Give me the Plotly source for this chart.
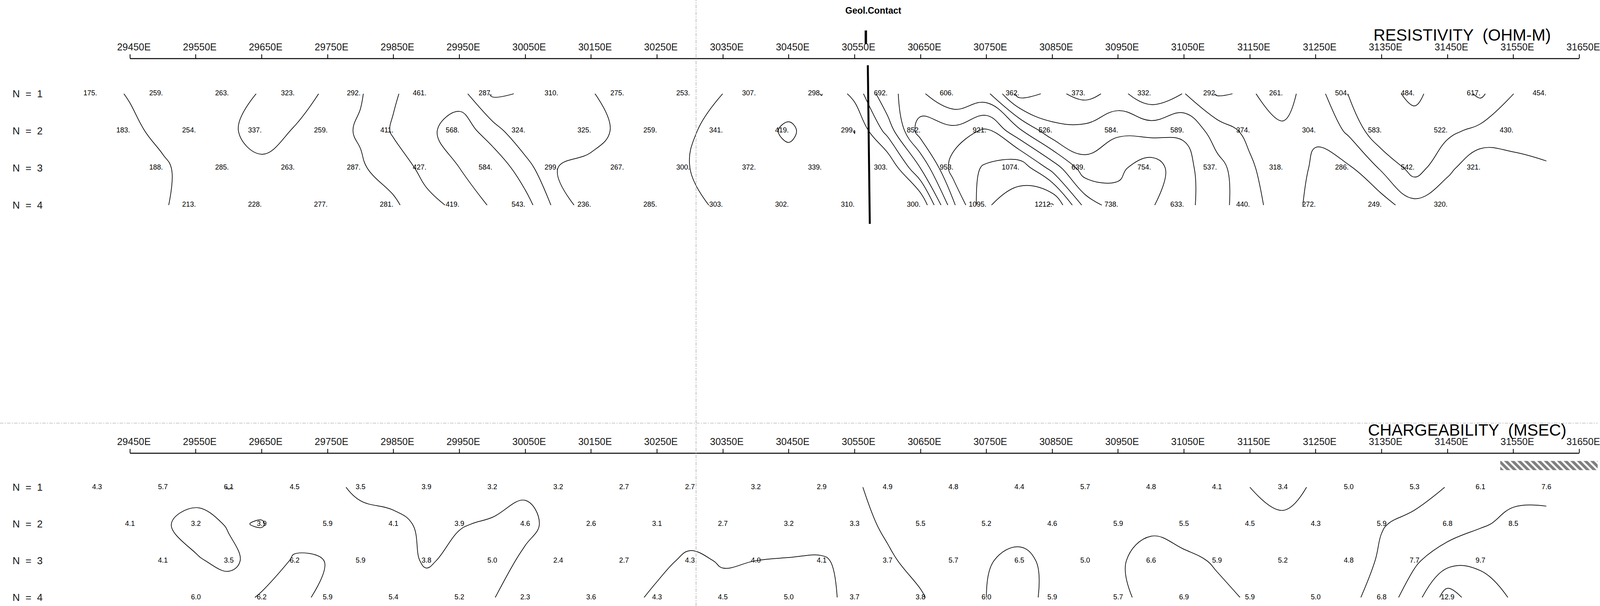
import plotly.graph_objects as go

# ---------------- data ----------------
tick_values = [29450, 29550, 29650, 29750, 29850, 29950, 30050, 30150, 30250, 30350, 30450,
               30550, 30650, 30750, 30850, 30950, 31050, 31150, 31250, 31350, 31450, 31550, 31650]
tick_labels = [f"{v}E" for v in tick_values]

n_levels = [1, 2, 3, 4]
row_start = [29400, 29450, 29500, 29550]   # first station of each N level
station_step = 100

res_n1 = [175, 259, 263, 323, 292, 461, 287, 310, 275, 253, 307, 298, 692, 606, 362, 373, 332, 292, 261, 504, 484, 617, 454]
res_n2 = [183, 254, 337, 259, 411, 568, 324, 325, 259, 341, 419, 299, 852, 921, 526, 584, 589, 374, 304, 583, 522, 430]
res_n3 = [188, 285, 263, 287, 427, 584, 299, 267, 300, 372, 339, 303, 953, 1074, 639, 754, 537, 318, 286, 542, 321]
res_n4 = [213, 228, 277, 281, 419, 543, 236, 285, 303, 302, 310, 300, 1095, 1212, 738, 633, 440, 272, 249, 320]

chg_n1 = [4.3, 5.7, 6.1, 4.5, 3.5, 3.9, 3.2, 3.2, 2.7, 2.7, 3.2, 2.9, 4.9, 4.8, 4.4, 5.7, 4.8, 4.1, 3.4, 5.0, 5.3, 6.1, 7.6]
chg_n2 = [4.1, 3.2, 3.9, 5.9, 4.1, 3.9, 4.6, 2.6, 3.1, 2.7, 3.2, 3.3, 5.5, 5.2, 4.6, 5.9, 5.5, 4.5, 4.3, 5.9, 6.8, 8.5]
chg_n3 = [4.1, 3.5, 6.2, 5.9, 3.8, 5.0, 2.4, 2.7, 4.3, 4.0, 4.1, 3.7, 5.7, 6.5, 5.0, 6.6, 5.9, 5.2, 4.8, 7.7, 9.7]
chg_n4 = [6.0, 6.2, 5.9, 5.4, 5.2, 2.3, 3.6, 4.3, 4.5, 5.0, 3.7, 3.8, 6.0, 5.9, 5.7, 6.9, 5.9, 5.0, 6.8, 12.9]

res_rows = [res_n1, res_n2, res_n3, res_n4]
chg_rows = [chg_n1, chg_n2, chg_n3, chg_n4]

res_levels = dict(start=200, end=1200, size=100)
chg_levels = dict(start=4, end=12, size=2)

contact_x = 30570
hatch_start, hatch_end = 31530, 31700

# ---------------- geometry ----------------
REF_W, H = 4609, 1551          # reference picture size
W = 4096                       # browser viewport width actually available
PX_PER_M = (4556 - 375) / 2200.0   # in reference pixels
X0 = 29450 - 375 / PX_PER_M
X1 = X0 + REF_W / PX_PER_M


def px(xr):
    return xr / REF_W


def py(yr):
    return 1 - yr / H


FONT = "Liberation Sans Narrow, Liberation Sans, Arial, sans-serif"
FONT_REG = "Liberation Sans, Arial, sans-serif"


def positions(r, vals):
    return [row_start[r] + station_step * k for k in range(len(vals))]


def grid(rows):
    xs = sorted({x for r, vals in enumerate(rows) for x in positions(r, vals)})
    z = []
    for r, vals in enumerate(rows):
        d = dict(zip(positions(r, vals), vals))
        z.append([d.get(x) for x in xs])
    return xs, z


fig = go.Figure()

for rows, levels, xa, ya, fmt, tpos in [
    (res_rows, res_levels, "x", "y", lambda v: f"{v}.", "middle left"),
    (chg_rows, chg_levels, "x2", "y2", lambda v: f"{v:.1f}", "middle center"),
]:
    xs, z = grid(rows)
    fig.add_trace(go.Contour(
        x=xs, y=n_levels, z=z, connectgaps=True,
        contours=dict(coloring="none", showlabels=False, **levels),
        line=dict(color="black", width=1.7, smoothing=1.2),
        showscale=False, hoverinfo="skip", xaxis=xa, yaxis=ya,
    ))
    tx, ty, tt = [], [], []
    for r, vals in enumerate(rows):
        tx += positions(r, vals)
        ty += [n_levels[r]] * len(vals)
        tt += [fmt(v) for v in vals]
    fig.add_trace(go.Scatter(
        x=tx, y=ty, text=tt, mode="text", textposition=tpos,
        textfont=dict(family=FONT, size=18, color="black"),
        cliponaxis=False, hoverinfo="skip", xaxis=xa, yaxis=ya,
    ))

# hatched anomaly bar on the chargeability section
fig.add_trace(go.Bar(
    x=[hatch_end - hatch_start], base=[hatch_start], y=[0.41], width=[0.25],
    orientation="h", xaxis="x2", yaxis="y2",
    marker=dict(color="white", line=dict(width=0),
                pattern=dict(shape="\\", fgcolor="black", bgcolor="white", size=12, solidity=0.6)),
    hoverinfo="skip",
))

xaxis_common = dict(
    range=[X0, X1], domain=[0, 1], side="top",
    tickmode="array", tickvals=tick_values, ticktext=tick_labels,
    ticks="outside", ticklen=10, tickwidth=1.5, tickcolor="black",
    tickfont=dict(family=FONT, size=25, color="#1a1a1a"),
    ticklabelshift=10, ticklabeloverflow="allow",
    showgrid=False, zeroline=False, showline=False,
)
yaxis_common = dict(showgrid=False, zeroline=False, showline=False, showticklabels=False, ticks="")

fig.update_layout(
    width=W, height=H,
    margin=dict(l=0, r=0, t=0, b=0),
    paper_bgcolor="white", plot_bgcolor="white",
    showlegend=False,
    xaxis=dict(anchor="y", **xaxis_common),
    yaxis=dict(domain=[py(600), py(150)], range=[4.79, 0.053], anchor="x", **yaxis_common),
    xaxis2=dict(anchor="y2", **xaxis_common),
    yaxis2=dict(domain=[0, py(1160)], range=[4.234, 0.074], anchor="x2", **yaxis_common),
)

shapes = []
# axis base lines spanning the station range
for xr, yr in [("x", "y domain"), ("x2", "y2 domain")]:
    shapes.append(dict(type="line", xref=xr, yref=yr, x0=tick_values[0], x1=tick_values[-1],
                       y0=1, y1=1, line=dict(color="black", width=2.5)))
# geological contact marker
shapes.append(dict(type="line", xref="x", yref="paper", x0=contact_x - 3, x1=contact_x - 3,
                   y0=py(78), y1=py(112), line=dict(color="black", width=6)))
shapes.append(dict(type="line", xref="x", yref="paper", x0=contact_x, x1=contact_x + 3,
                   y0=py(167), y1=py(573), line=dict(color="black", width=5)))
# faint fold lines of the scanned sheet
shapes.append(dict(type="line", xref="paper", yref="paper", x0=px(2008), x1=px(2008), y0=0, y1=1,
                   line=dict(color="#9a9a9a", width=1.2, dash="dashdot")))
shapes.append(dict(type="line", xref="paper", yref="paper", x0=0, x1=1, y0=py(1083), y1=py(1083),
                   line=dict(color="#9a9a9a", width=1.2, dash="dashdot")))
fig.update_layout(shapes=shapes)

ann = []
for r, n in enumerate(n_levels):
    for ya in ["y", "y2"]:
        ann.append(dict(x=px(80), xref="paper", y=n, yref=ya, text=f"N  =  {n}", showarrow=False,
                        font=dict(family=FONT_REG, size=26, color="#1a1a1a"), xanchor="center", yanchor="middle"))
ann.append(dict(x=px(4218), xref="paper", y=py(89), yref="paper", text="RESISTIVITY  (OHM-M)",
                showarrow=False, font=dict(family=FONT, size=42, color="black"), xanchor="center", yanchor="middle"))
ann.append(dict(x=px(4233), xref="paper", y=py(1100), yref="paper", text="CHARGEABILITY  (MSEC)",
                showarrow=False, font=dict(family=FONT, size=42, color="black"), xanchor="center", yanchor="middle"))
ann.append(dict(x=contact_x + 8, xref="x", y=py(27), yref="paper", text="<b>Geol.Contact</b>",
                showarrow=False, font=dict(family=FONT_REG, size=23, color="black"), xanchor="center", yanchor="middle"))
fig.update_layout(annotations=ann)

fig.write_html("out.html", config={"displayModeBar": False},
               post_script="document.body.style.margin='0';")
